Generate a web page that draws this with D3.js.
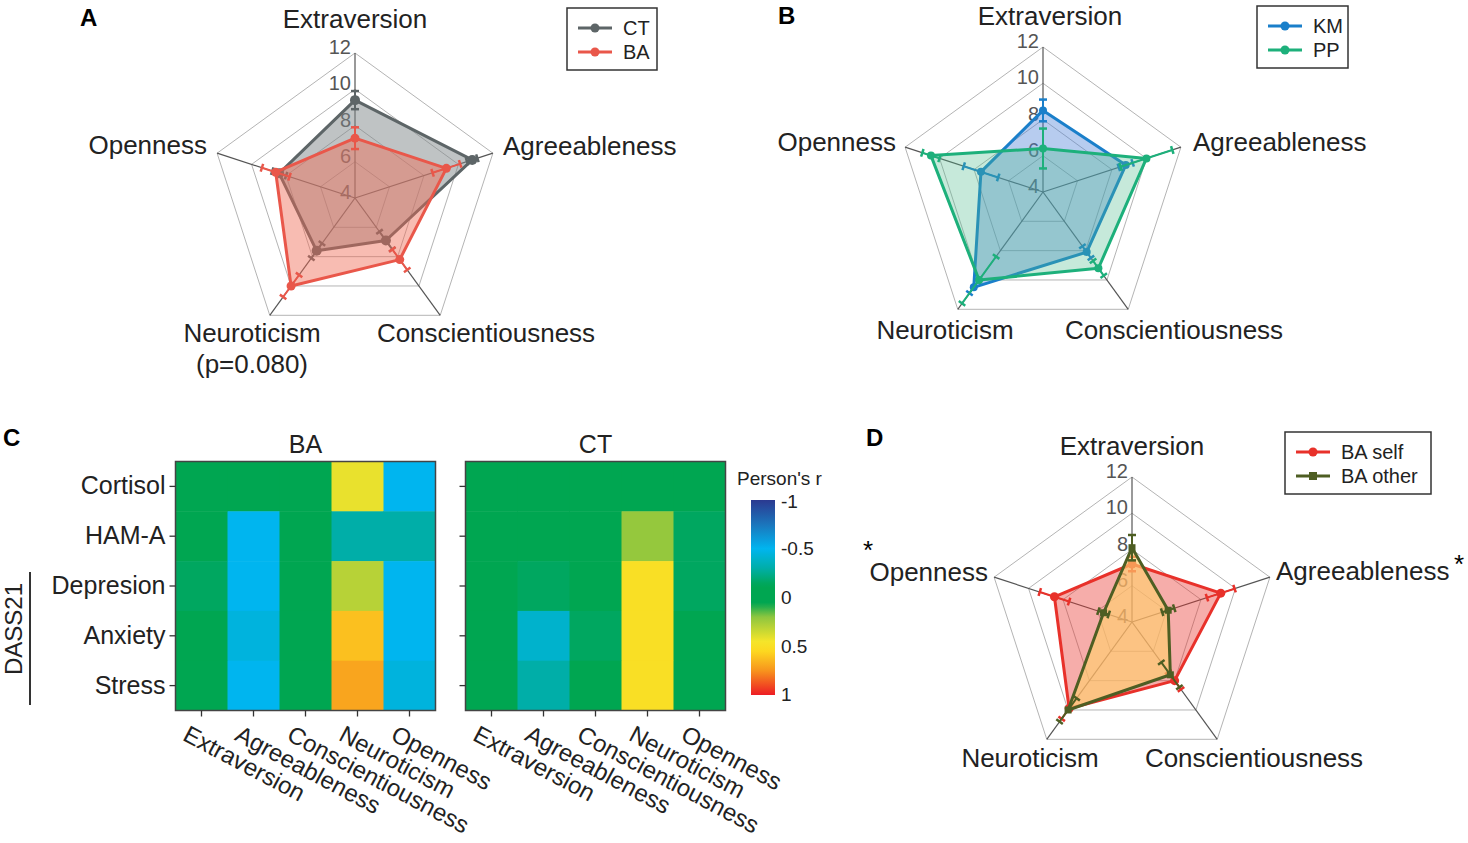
<!DOCTYPE html>
<html>
<head>
<meta charset="utf-8">
<script src="https://cdn.jsdelivr.net/npm/d3@7"></script>
<style>
	body { margin: 0; background: #fff; }
	svg { font-family: "Liberation Sans", Arial, sans-serif; }
</style>
</head>
<body>
<svg id="chart" width="1468" height="843"></svg>
<script>
// ---- data ----
var traits = ["Extraversion", "Agreeableness", "Conscientiousness", "Neuroticism", "Openness"];
var radarTicks = [4, 6, 8, 10, 12];

// panel A
var ctMean = [9.4, 10.8, 6.9, 7.6, 8.4];
var ctErr = [0.5, 0.3, 0.6, 0.5, 0.4];
var baMean = [7.3, 9.3, 8.2, 10.0, 8.6];
var baErr = [0.6, 0.8, 0.7, 0.75, 0.8];

// panel B
var kmMean = [8.5, 8.8, 8.1, 10.5, 7.6];
var kmErr = [0.6, 0.4, 0.4, 0.4, 1.0];
var ppMean = [6.4, 10.0, 9.2, 10.0, 10.5];
var ppErr = [1.1, 1.5, 0.5, 1.6, 0.5];

// panel D
var selfMean = [7.2, 9.15, 8.0, 9.9, 8.5];
var selfErr = [0.4, 0.8, 0.6, 0.7, 0.85];
var otherMean = [8.1, 6.1, 7.6, 10.0, 5.65];
var otherErr = [0.7, 0.35, 0.85, 0.8, 0.3];

// panel C
var measures = ["Cortisol", "HAM-A", "Depresion", "Anxiety", "Stress"];
var baCorr = [
	[0, 0, 0, 0.42, -0.5],
	[0, -0.5, 0, -0.3, -0.3],
	[-0.15, -0.5, 0, 0.3, -0.5],
	[-0.05, -0.45, 0, 0.62, -0.5],
	[0, -0.5, 0, 0.7, -0.45]
];
var ctCorr = [
	[0, 0, 0, 0, 0],
	[0, 0, 0, 0.22, -0.15],
	[0, -0.15, 0, 0.5, -0.15],
	[0, -0.4, -0.15, 0.5, 0],
	[0, -0.3, 0, 0.5, 0]
];
var colorTicks = [-1, -0.5, 0, 0.5, 1];

var svg = d3.select("#chart");

// ---- radar panels ----
function radar(cx, cy, series, labelPos) {
	var g = svg.append("g").attr("transform", "translate(" + cx + "," + cy + ")");
	var r = d3.scaleLinear().domain([4, 12]).range([0, 145]);
	var ang = function(i) { return -Math.PI / 2 + i * 2 * Math.PI / 5; };
	var pt = function(v, i) { return [r(v) * Math.cos(ang(i)), r(v) * Math.sin(ang(i))]; };
	var closed = d3.line().curve(d3.curveLinearClosed);

	radarTicks.slice(1).forEach(function(t) {
		g.append("path")
			.attr("d", closed(traits.map(function(d, i) { return pt(t, i); })))
			.attr("fill", "none")
			.attr("stroke", "#b4b4b4")
			.attr("stroke-width", 1);
	});
	traits.forEach(function(d, i) {
		var p = pt(12, i);
		g.append("line")
			.attr("x2", p[0]).attr("y2", p[1])
			.attr("stroke", "#555").attr("stroke-width", 1.2);
	});
	radarTicks.forEach(function(t) {
		g.append("text")
			.attr("x", -4)
			.attr("y", -r(t) + 1)
			.attr("text-anchor", "end")
			.attr("font-size", 20)
			.attr("fill", "#555")
			.text(t);
	});

	series.forEach(function(s) {
		var pts = s.mean.map(pt);
		g.append("path")
			.attr("d", closed(pts))
			.attr("fill", s.fill)
			.attr("fill-opacity", s.opacity)
			.attr("stroke", s.color)
			.attr("stroke-width", 3)
			.attr("stroke-linejoin", "round");
		s.mean.forEach(function(m, i) {
			var a = pt(m - s.err[i], i), b = pt(m + s.err[i], i);
			var nx = -Math.sin(ang(i)) * 4, ny = Math.cos(ang(i)) * 4;
			g.append("line")
				.attr("x1", a[0]).attr("y1", a[1]).attr("x2", b[0]).attr("y2", b[1])
				.attr("stroke", s.color).attr("stroke-width", 2);
			[a, b].forEach(function(c) {
				g.append("line")
					.attr("x1", c[0] - nx).attr("y1", c[1] - ny)
					.attr("x2", c[0] + nx).attr("y2", c[1] + ny)
					.attr("stroke", s.color).attr("stroke-width", 2.5);
			});
		});
		pts.forEach(function(p) {
			if (s.shape == "square")
				g.append("rect")
					.attr("x", p[0] - 3.5).attr("y", p[1] - 3.5)
					.attr("width", 7).attr("height", 7)
					.attr("fill", s.color);
			else
				g.append("circle")
					.attr("cx", p[0]).attr("cy", p[1]).attr("r", s.dot)
					.attr("fill", s.color);
		});
	});

	labelPos.forEach(function(l) {
		g.append("text")
			.attr("x", l[1]).attr("y", l[2])
			.attr("text-anchor", l[3])
			.attr("dominant-baseline", "central")
			.attr("font-size", 26)
			.attr("fill", "#222")
			.text(l[0]);
	});
	return g;
}

function legend(x, y, w, items) {
	var g = svg.append("g").attr("transform", "translate(" + x + "," + y + ")");
	g.append("rect")
		.attr("width", w).attr("height", 62)
		.attr("fill", "#fff").attr("stroke", "#333").attr("stroke-width", 1.5);
	items.forEach(function(it, i) {
		var yy = 20 + i * 24;
		g.append("line")
			.attr("x1", 11).attr("x2", 45).attr("y1", yy).attr("y2", yy)
			.attr("stroke", it.color).attr("stroke-width", 3);
		if (it.shape == "square")
			g.append("rect").attr("x", 24).attr("y", yy - 4).attr("width", 8).attr("height", 8)
				.attr("fill", it.color);
		else
			g.append("circle").attr("cx", 28).attr("cy", yy).attr("r", 4.5).attr("fill", it.color);
		g.append("text")
			.attr("x", 56).attr("y", yy)
			.attr("dominant-baseline", "central")
			.attr("font-size", 20)
			.attr("fill", "#222")
			.text(it.name);
	});
}

function panelLabel(x, y, t) {
	svg.append("text")
		.attr("x", x).attr("y", y)
		.attr("font-size", 24).attr("font-weight", "bold")
		.attr("dominant-baseline", "central")
		.text(t);
}

// A
radar(355, 198, [
	{mean: ctMean, err: ctErr, color: "#5d6567", fill: "#7f8789", opacity: 0.5, dot: 5},
	{mean: baMean, err: baErr, color: "#e9574a", fill: "#f06a55", opacity: 0.45, dot: 4.5}
], [
	[traits[0], 0, -179, "middle"],
	[traits[1], 148, -52, "start"],
	[traits[4], -148, -53, "end"],
	[traits[3], -103, 135, "middle"],
	["(p=0.080)", -103, 166, "middle"],
	[traits[2], 131, 135, "middle"]
]);
legend(567, 8, 90, [{name: "CT", color: "#5d6567"}, {name: "BA", color: "#e9574a"}]);
panelLabel(80, 17, "A");

// B
radar(1043, 192, [
	{mean: kmMean, err: kmErr, color: "#1a7fca", fill: "#4a7fd8", opacity: 0.4, dot: 4},
	{mean: ppMean, err: ppErr, color: "#1db07b", fill: "#4fbb8c", opacity: 0.32, dot: 4}
], [
	[traits[0], 7, -176, "middle"],
	[traits[1], 150, -50, "start"],
	[traits[4], -147, -50, "end"],
	[traits[3], -98, 138, "middle"],
	[traits[2], 131, 138, "middle"]
]);
legend(1257, 6, 91, [{name: "KM", color: "#1a7fca"}, {name: "PP", color: "#1db07b"}]);
panelLabel(778, 15, "B");

// D
var gD = radar(1132, 622, [
	{mean: selfMean, err: selfErr, color: "#e8312a", fill: "#e8312a", opacity: 0.4, dot: 4.5},
	{mean: otherMean, err: otherErr, color: "#4e5e23", fill: "#ffcf6e", opacity: 0.65, shape: "square"}
], [
	[traits[0], 0, -176, "middle"],
	[traits[1], 144, -51, "start"],
	[traits[4], -144, -50, "end"],
	[traits[3], -102, 136, "middle"],
	[traits[2], 122, 136, "middle"]
]);
gD.append("text").attr("x", 322).attr("y", -58).attr("font-size", 26).attr("dominant-baseline", "central").text("*");
gD.append("text").attr("x", -269).attr("y", -72).attr("font-size", 26).attr("dominant-baseline", "central").text("*");
legend(1285, 432, 146, [{name: "BA self", color: "#e8312a"}, {name: "BA other", color: "#4e5e23", shape: "square"}]);
panelLabel(866, 437, "D");

// ---- C: heatmaps ----
var color = d3.scaleLinear()
	.domain([-1, -0.75, -0.5, -0.3, -0.12, 0.06, 0.2, 0.45, 0.55, 0.75, 1])
	.range(["#2b3990", "#1b75bc", "#00b5ef", "#00aea8", "#00a651", "#00a651", "#8dc63f",
		"#f5e52a", "#fdd820", "#f7941d", "#ed1c24"])
	.clamp(true);

function heatmap(x0, title, data, withLabels) {
	var g = svg.append("g").attr("transform", "translate(" + x0 + ",461.5)");
	var xs = d3.scaleBand().domain(traits).range([0, 260]);
	var ys = d3.scaleBand().domain(measures).range([0, 249]);
	data.forEach(function(row, j) {
		row.forEach(function(v, i) {
			g.append("rect")
				.attr("x", xs(traits[i])).attr("y", ys(measures[j]))
				.attr("width", xs.bandwidth() + 0.5).attr("height", ys.bandwidth() + 0.5)
				.attr("fill", color(v));
		});
	});
	g.append("rect").attr("width", 260).attr("height", 249)
		.attr("fill", "none").attr("stroke", "#444").attr("stroke-width", 1.5);

	var ax = g.append("g").attr("transform", "translate(0,249)")
		.call(d3.axisBottom(xs).tickSize(6).tickFormat(""));
	var ay = g.append("g")
		.call(d3.axisLeft(ys).tickSize(6).tickFormat(withLabels ? null : ""));
	[ax, ay].forEach(function(a) {
		a.select(".domain").remove();
		a.selectAll("line").attr("stroke", "#333").attr("stroke-width", 1.3);
	});
	ay.selectAll("text").attr("font-size", 25).attr("fill", "#222")
		.attr("font-family", "Liberation Sans, Arial, sans-serif").attr("dx", -1);

	traits.forEach(function(t) {
		var tx = xs(t) + xs.bandwidth() / 2;
		g.append("text")
			.attr("transform", "translate(" + (tx - 20) + "," + 278 + ") rotate(28)")
			.attr("font-size", 24).attr("fill", "#222")
			.text(t);
	});
	g.append("text")
		.attr("x", 130).attr("y", -18)
		.attr("text-anchor", "middle").attr("dominant-baseline", "central")
		.attr("font-size", 25).attr("fill", "#222")
		.text(title);
}

heatmap(175.5, "BA", baCorr, true);
heatmap(465.5, "CT", ctCorr, false);
panelLabel(3, 437, "C");

svg.append("text")
	.attr("transform", "translate(13,629) rotate(-90)")
	.attr("text-anchor", "middle").attr("dominant-baseline", "central")
	.attr("font-size", 24).attr("fill", "#222")
	.text("DASS21");
svg.append("line")
	.attr("x1", 30).attr("x2", 30).attr("y1", 572).attr("y2", 705)
	.attr("stroke", "#333").attr("stroke-width", 2);

// colorbar
var cb = d3.scaleLinear().domain([-1, 1]).range([500, 695]);
var defs = svg.append("defs");
var grad = defs.append("linearGradient").attr("id", "cbar")
	.attr("x1", 0).attr("x2", 0).attr("y1", 0).attr("y2", 1);
d3.range(-1, 1.001, 0.05).forEach(function(v) {
	grad.append("stop").attr("offset", (v + 1) / 2).attr("stop-color", color(v));
});
svg.append("rect")
	.attr("x", 751).attr("y", cb(-1)).attr("width", 24).attr("height", cb(1) - cb(-1))
	.attr("fill", "url(#cbar)");
colorTicks.forEach(function(t) {
	svg.append("text")
		.attr("x", 781).attr("y", cb(t) + (t == -1 ? 1 : t == 1 ? -1 : 0))
		.attr("dominant-baseline", "central")
		.attr("font-size", 19).attr("fill", "#222")
		.text(t);
});
svg.append("text")
	.attr("x", 737).attr("y", 478)
	.attr("dominant-baseline", "central")
	.attr("font-size", 19).attr("fill", "#222")
	.text("Person's r");
</script>
</body>
</html>
